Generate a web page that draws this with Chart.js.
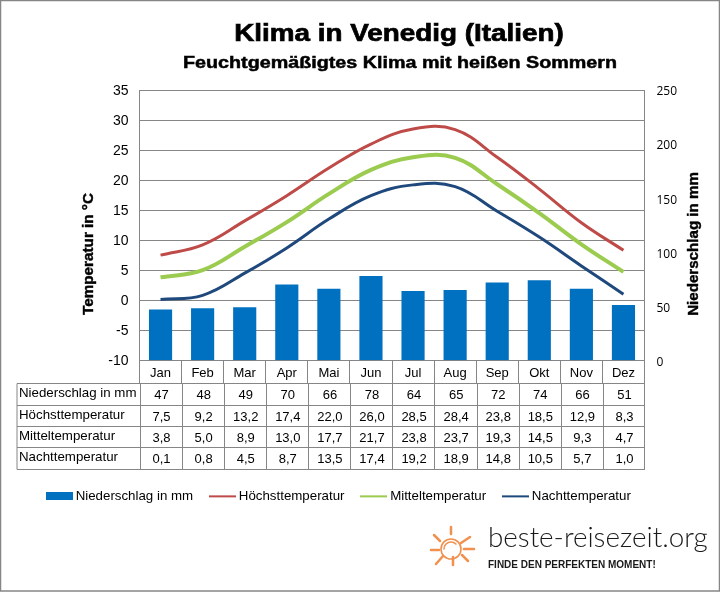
<!DOCTYPE html>
<html lang="de">
<head>
<meta charset="utf-8">
<title>Klima in Venedig</title>
<script src="https://cdn.jsdelivr.net/npm/chart.js@4"></script>
<style>
  html, body { margin: 0; padding: 0; background: #fff; }
  #wrap { position: relative; width: 720px; height: 592px; }
</style>
</head>
<body>
<div id="wrap"><canvas id="klima" width="720" height="592"></canvas></div>
<script>
// ====================== DATA ======================
const months = ['Jan', 'Feb', 'Mar', 'Apr', 'Mai', 'Jun', 'Jul', 'Aug', 'Sep', 'Okt', 'Nov', 'Dez'];
const rain = [47, 48, 49, 70, 66, 78, 64, 65, 72, 74, 66, 51];
const tempHigh = [7.5, 9.2, 13.2, 17.4, 22.0, 26.0, 28.5, 28.4, 23.8, 18.5, 12.9, 8.3];
const tempMean = [3.8, 5.0, 8.9, 13.0, 17.7, 21.7, 23.8, 23.7, 19.3, 14.5, 9.3, 4.7];
const tempNight = [0.1, 0.8, 4.5, 8.7, 13.5, 17.4, 19.2, 18.9, 14.8, 10.5, 5.7, 1.0];

const GREY = '#868686';
const ARIAL = '"Liberation Sans", Arial, sans-serif';

const fmt = (v) => v.toFixed(1).replace('.', ',');

const tableRows = [
    ['Niederschlag in mm', rain.map(String)],
    ['Höchsttemperatur', tempHigh.map(fmt)],
    ['Mitteltemperatur', tempMean.map(fmt)],
    ['Nachttemperatur', tempNight.map(fmt)]
];

// legend swatches, the bar one is thick, the lines are thin
function swatch(color, h) {
    const c = document.createElement('canvas');
    c.width = 27;
    c.height = 8;
    const x = c.getContext('2d');
    x.fillStyle = color;
    x.fillRect(0, (8 - h) / 2, 27, h);
    return c;
}

// the original titles are stretched wider than the font, so they are drawn by hand
function stretchedText(ctx, text, x, y, font, sx, rotate, heavy) {
    ctx.save();
    ctx.translate(x, y);
    if (rotate) ctx.rotate(-Math.PI / 2);
    ctx.scale(sx, 1);
    ctx.font = font;
    ctx.fillStyle = '#000';
    ctx.strokeStyle = '#000';
    ctx.lineWidth = heavy;
    ctx.textAlign = 'center';
    ctx.textBaseline = 'alphabetic';
    ctx.fillText(text, 0, 0);
    ctx.strokeText(text, 0, 0);
    ctx.restore();
}

// ====================== PLUGINS ======================
const titles = {
    id: 'titles',
    afterDraw(chart) {
        const { ctx } = chart;
        stretchedText(ctx, 'Klima in Venedig (Italien)', 399, 41, 'bold 24px ' + ARIAL, 1.16, false, 0.7);
        stretchedText(ctx, 'Feuchtgemäßigtes Klima mit heißen Sommern', 400, 68, 'bold 17px ' + ARIAL, 1.16, false, 0.5);
        stretchedText(ctx, 'Temperatur in °C', 93, 254, 'bold 14px ' + ARIAL, 1.09, true, 0.4);
        stretchedText(ctx, 'Niederschlag in mm', 698, 244, 'bold 14px ' + ARIAL, 1.08, true, 0.4);
    }
};

// table under the plot, columns follow the category scale
const dataTable = {
    id: 'dataTable',
    afterDraw(chart) {
        const { ctx, scales } = chart;
        const xs = scales.x;
        const step = xs.getPixelForTick(1) - xs.getPixelForTick(0);
        const left = xs.getPixelForTick(0) - step / 2;
        const right = left + months.length * step;
        const bottom = chart.chartArea.bottom;
        const rowY = [383.5, 405.5, 426.5, 447.5, 469.5];

        ctx.save();
        ctx.strokeStyle = GREY;
        ctx.lineWidth = 1;
        ctx.beginPath();
        // month row
        for (let i = 0; i <= months.length; i++) {
            const px = Math.round(left + i * step - 0.5) + 0.5;
            ctx.moveTo(px, bottom);
            ctx.lineTo(px, rowY[0]);
        }
        // data rows
        rowY.forEach((y) => {
            ctx.moveTo(17, y);
            ctx.lineTo(right + 0.5, y);
        });
        ctx.moveTo(17, rowY[0]);
        ctx.lineTo(17, rowY[4]);
        for (let i = 0; i <= months.length; i++) {
            const px = Math.min(Math.round(left + i * step + 0.4) + 0.5, right);
            ctx.moveTo(px, rowY[0]);
            ctx.lineTo(px, rowY[4]);
        }
        ctx.stroke();

        ctx.fillStyle = '#000';
        ctx.textBaseline = 'middle';
        tableRows.forEach(([label, values], r) => {
            const y = (rowY[r] + rowY[r + 1]) / 2;
            ctx.font = '13.3px ' + ARIAL;
            ctx.textAlign = 'left';
            ctx.fillText(label, 19, y - 1);
            ctx.font = '13px ' + ARIAL;
            ctx.textAlign = 'center';
            values.forEach((v, i) => ctx.fillText(v, xs.getPixelForTick(i) + 1, y + 1));
        });
        ctx.restore();
    }
};

// frame and logo
const decor = {
    id: 'decor',
    afterDraw(chart) {
        const { ctx } = chart;
        ctx.save();
        ctx.strokeStyle = GREY;
        ctx.lineWidth = 1.5;
        ctx.strokeRect(0.5, 0.5, 719, 590.5);

        // sun
        ctx.strokeStyle = '#F0914F';
        ctx.lineCap = 'round';
        ctx.lineWidth = 2.5;
        const cx = 451, cy = 548;
        [[0, -21, 0, -14], [-17, -13, -11, -7], [10, -5, 19, -11], [-20, 2, -12, 2], [13, 1, 23, 1],
         [-15, 16, -8, 8], [2, 9, 2, 17], [11, 7, 17, 13]].forEach(([a, b, c, d]) => {
            ctx.beginPath();
            ctx.moveTo(cx + a, cy + b);
            ctx.lineTo(cx + c, cy + d);
            ctx.stroke();
        });
        ctx.lineWidth = 1.6;
        ctx.beginPath();
        ctx.arc(cx, cy + 1, 10, 0, Math.PI * 2);
        ctx.stroke();
        ctx.beginPath();
        ctx.arc(cx, cy + 1, 7, Math.PI * 1.0, Math.PI * 1.75);
        ctx.stroke();

        ctx.fillStyle = '#1a1a1a';
        ctx.textAlign = 'left';
        ctx.textBaseline = 'alphabetic';
        ctx.font = '300 27.8px Lato, "Open Sans", sans-serif';
        ctx.fillText('beste-reisezeit.org', 488, 546.5);
        ctx.font = 'bold 10px ' + ARIAL;
        ctx.fillText('FINDE DEN PERFEKTEN MOMENT!', 488, 568);
        ctx.restore();
    }
};

// ====================== CHART ======================
new Chart(document.getElementById('klima').getContext('2d'), {
    type: 'bar',
    data: {
        labels: months,
        datasets: [
            {
                type: 'bar',
                label: 'Niederschlag in mm',
                data: rain,
                yAxisID: 'y1',
                backgroundColor: '#0070C0',
                barPercentage: 0.55,
                categoryPercentage: 1,
                order: 4,
                pointStyle: swatch('#0070C0', 8)
            },
            {
                type: 'line',
                label: 'Höchsttemperatur',
                data: tempHigh,
                yAxisID: 'y',
                borderColor: '#BE4B48',
                backgroundColor: '#BE4B48',
                borderWidth: 3,
                tension: 0.4,
                pointRadius: 0,
                order: 3,
                pointStyle: swatch('#BE4B48', 2)
            },
            {
                type: 'line',
                label: 'Mitteltemperatur',
                data: tempMean,
                yAxisID: 'y',
                borderColor: '#9BCB4F',
                backgroundColor: '#9BCB4F',
                borderWidth: 4,
                tension: 0.4,
                pointRadius: 0,
                order: 2,
                pointStyle: swatch('#9BCB4F', 2)
            },
            {
                type: 'line',
                label: 'Nachttemperatur',
                data: tempNight,
                yAxisID: 'y',
                borderColor: '#1F497D',
                backgroundColor: '#1F497D',
                borderWidth: 3,
                tension: 0.4,
                pointRadius: 0,
                order: 1,
                pointStyle: swatch('#1F497D', 2)
            }
        ]
    },
    options: {
        responsive: false,
        animation: false,
        layout: { padding: { left: 30, right: 0, top: 90, bottom: 79 } },
        plugins: {
            title: { display: false },
            legend: {
                position: 'bottom',
                align: 'start',
                labels: {
                    usePointStyle: true,
                    pointStyleWidth: 20,
                    padding: 19,
                    color: '#000',
                    font: { family: ARIAL, size: 13.3 },
                    sort: (a, b) => a.datasetIndex - b.datasetIndex
                }
            },
            tooltip: { enabled: false }
        },
        scales: {
            x: {
                grid: { display: false },
                border: { display: false },
                ticks: { color: '#000', font: { family: ARIAL, size: 13 }, padding: -3, maxRotation: 0 },
                afterFit(scale) { scale.height = 110.5; }
            },
            y: {
                position: 'left',
                min: -10,
                max: 35,
                ticks: { stepSize: 5, color: '#000', font: { family: ARIAL, size: 14 }, padding: 11, labelOffset: 1 },
                grid: { color: GREY, drawTicks: false },
                border: { color: GREY },
                afterFit(scale) { scale.width = 109.5; }
            },
            y1: {
                position: 'right',
                min: 0,
                max: 250,
                ticks: { stepSize: 50, color: '#000', font: { family: '"Open Sans"', size: 12 }, padding: 12, labelOffset: 2 },
                grid: { display: false, drawTicks: false },
                border: { color: GREY },
                afterFit(scale) { scale.width = 75.5; }
            }
        }
    },
    plugins: [titles, dataTable, decor]
});
</script>
</body>
</html>
